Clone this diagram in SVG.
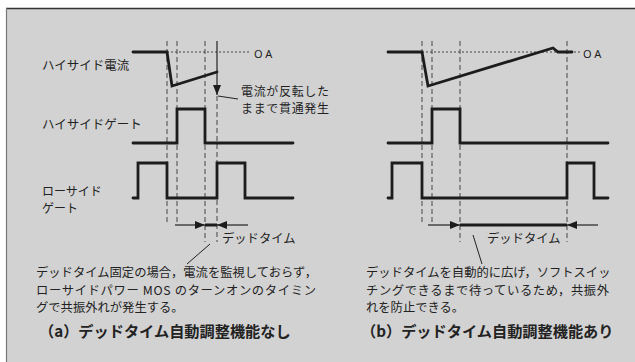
<svg xmlns="http://www.w3.org/2000/svg" width="635" height="362" viewBox="0 0 635 362">
<defs>
<style>
.t{font-family:"Noto Sans CJK JP","Noto Sans",sans-serif;fill:#222;font-size:12.3px}
.lab{font-size:12.5px}
.lab2{font-size:12px}
.cap{font-size:15.2px;font-weight:bold}
.oa{font-family:"Noto Sans","Liberation Sans",sans-serif;font-size:11px;letter-spacing:3px;fill:#222}
.w{fill:none;stroke:#1c1c1c;stroke-width:2.8;stroke-linejoin:miter;stroke-linecap:round}
.d{fill:none;stroke:#444;stroke-width:1;stroke-dasharray:5 3}
.dot{fill:none;stroke:#444;stroke-width:1;stroke-dasharray:2 2}
.thin{fill:none;stroke:#222;stroke-width:1}
.ar{fill:none;stroke:#222;stroke-width:1.2}
</style>
<marker id="ah" viewBox="0 0 10 8" refX="10" refY="4" markerWidth="17" markerHeight="8" markerUnits="userSpaceOnUse" orient="auto">
<path d="M0,0 L10,4 L0,8 Z" fill="#1c1c1c"/>
</marker>
<marker id="ahs" viewBox="0 0 10 8" refX="10" refY="4" markerWidth="13" markerHeight="8" markerUnits="userSpaceOnUse" orient="auto">
<path d="M0,0 L10,4 L0,8 Z" fill="#1c1c1c"/>
</marker>
</defs>
<rect x="0" y="0" width="635" height="362" fill="#fff"/>
<rect x="6" y="8" width="629" height="354" fill="#d2d2d2"/>
<line x1="6" y1="8.5" x2="635" y2="8.5" stroke="#333" stroke-width="1.5"/>
<line x1="6.5" y1="8" x2="6.5" y2="362" stroke="#777" stroke-width="1.2"/>

<g id="panel-a">
<g id="a-guides">
<line class="d" x1="167" y1="41" x2="167" y2="222"/>
<line class="d" x1="177" y1="41" x2="177" y2="223"/>
<line class="d" x1="205" y1="41" x2="205" y2="242"/>
<line class="d" x1="217" y1="96" x2="217" y2="242"/>
<line class="dot" x1="167" y1="52" x2="250" y2="52"/>
</g>
<g id="a-current">
<text class="t lab" x="42" y="70">ハイサイド電流</text>
<polyline class="w" points="133,52 167,52 172,86 217,72"/>
<text class="oa" x="254" y="58">OA</text>
</g>
<g id="a-hgate">
<text class="t lab" x="42" y="129">ハイサイドゲート</text>
<polyline class="w" points="133,143 177,143 177,109 205,109 205,143 293,143"/>
</g>
<g id="a-lgate">
<text class="t lab2" x="42" y="195.5">ローサイド</text>
<text class="t lab2" x="42" y="212.5">ゲート</text>
<polyline class="w" points="133,198 138,198 138,163 167,163 167,198 217,198 217,163 245,163 245,198 293,198"/>
</g>
<g id="a-note1">
<text class="t lab2" x="241" y="95.5" textLength="88" lengthAdjust="spacing">電流が反転した</text>
<text class="t lab2" x="241" y="112.5" textLength="88" lengthAdjust="spacing">ままで貫通発生</text>
</g>
<g id="a-dead">
<text class="t" x="222" y="243">デッドタイム</text>
</g>
<g id="a-desc">
<text class="t" x="36" y="277">デッドタイム固定の場合，電流を監視しておらず，</text>
<text class="t" x="36" y="294.5" textLength="280" lengthAdjust="spacing">ローサイドパワー MOS のターンオンのタイミン</text>
<text class="t" x="36" y="312">グで共振外れが発生する。</text>
</g>
<text id="a-caption" class="t cap" x="39" y="337">（a）デッドタイム自動調整機能なし</text>
</g>

<g id="panel-b">
<g id="b-guides">
<line class="d" x1="422" y1="41" x2="422" y2="222"/>
<line class="d" x1="432" y1="41" x2="432" y2="223"/>
<line class="d" x1="460" y1="41" x2="460" y2="242"/>
<line class="d" x1="567" y1="41" x2="567" y2="242"/>
<line class="dot" x1="422" y1="52" x2="582" y2="52"/>
</g>
<g id="b-current">
<polyline class="w" points="388,52 422,52 428,86 553,48 558,52 572,52"/>
<text class="oa" x="583" y="58">OA</text>
</g>
<g id="b-hgate">
<polyline class="w" points="388,143 432,143 432,109 460,109 460,143 608,143"/>
</g>
<g id="b-lgate">
<polyline class="w" points="388,198 392,198 392,163 422,163 422,198 567,198 567,163 594,163 594,198 608,198"/>
</g>
<g id="b-dead">
<text class="t" x="487" y="243">デッドタイム</text>
</g>
<g id="b-desc">
<text class="t" x="366" y="277">デッドタイムを自動的に広げ，ソフトスイッ</text>
<text class="t" x="366" y="294.5" textLength="243" lengthAdjust="spacing">チングできるまで待っているため，共振外</text>
<text class="t" x="366" y="312">れを防止できる。</text>
</g>
<text id="b-caption" class="t cap" x="361" y="337">（b）デッドタイム自動調整機能あり</text>
</g>

<g id="connectors">
<line class="ar" x1="217" y1="41" x2="217" y2="95" stroke-width="1.5" marker-end="url(#ahs)"/>
<line class="thin" x1="218" y1="96" x2="238" y2="99"/>
<line class="ar" x1="175" y1="225" x2="205" y2="225" marker-end="url(#ah)"/>
<line class="ar" x1="248" y1="225" x2="217" y2="225" marker-end="url(#ah)"/>
<line x1="205" y1="225" x2="217" y2="225" stroke="#1c1c1c" stroke-width="3"/>
<line class="thin" x1="210" y1="244" x2="187" y2="264"/>
<line class="ar" x1="428" y1="225" x2="460" y2="225" marker-end="url(#ah)"/>
<line class="ar" x1="598" y1="225" x2="567" y2="225" marker-end="url(#ah)"/>
<line x1="460" y1="225" x2="567" y2="225" stroke="#1c1c1c" stroke-width="3"/>
<line class="thin" x1="473" y1="235" x2="482" y2="264"/>
</g>
</svg>
